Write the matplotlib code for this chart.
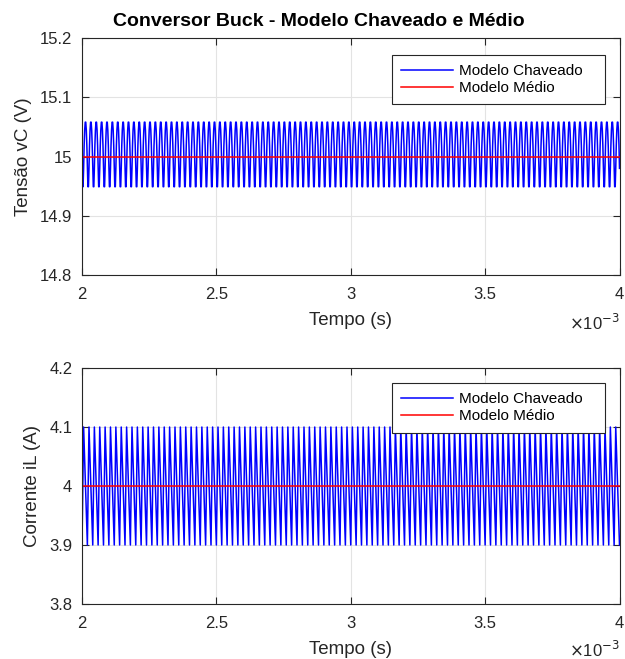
import numpy as np
import matplotlib
matplotlib.use("Agg")
import matplotlib.pyplot as plt
from matplotlib.ticker import FuncFormatter

plt.rcParams['font.family'] = ['Liberation Sans', 'DejaVu Sans']

# switching period 20 us (50 kHz), 10 samples per period, window 2 ms .. 4 ms
t_start = 2e-3
t_stop = 4e-3
n_periods = 100
# one switching period of the switched model
vc_period = [14.980, 14.949, 14.949, 14.980, 15.019, 15.045, 15.058, 15.058, 15.045, 15.019]
il_period = [3.900, 3.967, 4.033, 4.100, 4.071, 4.043, 4.014, 3.986, 3.957, 3.929]
# average model
vc_avg = 15.0
il_avg = 4.0

vc_sw = np.append(np.tile(vc_period, n_periods), vc_period[0])
il_sw = np.append(np.tile(il_period, n_periods), il_period[0])
t = np.linspace(t_start, t_stop, len(vc_sw))

x_ticks = [2e-3, 2.5e-3, 3e-3, 3.5e-3, 4e-3]
vc_ticks = [14.8, 14.9, 15.0, 15.1, 15.2]
il_ticks = [3.8, 3.9, 4.0, 4.1, 4.2]

fig = plt.figure(figsize=(6.25, 6.59), dpi=100)
ax1 = fig.add_axes([0.1312, 0.5827, 0.86, 0.3596])
ax2 = fig.add_axes([0.1312, 0.0835, 0.86, 0.358])

edge = '#262626'
panels = [
    (ax1, vc_sw, vc_avg, vc_ticks, 'Tensão vC (V)', (0.577, 0.928)),
    (ax2, il_sw, il_avg, il_ticks, 'Corrente iL (A)', (0.577, 0.936)),
]
for ax, sw, avg, yt, ylab, anchor in panels:
    ax.plot(t, sw, color='#0000ff', lw=1.1, label='Modelo Chaveado   ')
    ax.plot([t_start, t_stop], [avg, avg], color='#ff0000', lw=1.1, label='Modelo Médio')
    ax.set_xlim(t_start, t_stop)
    ax.set_ylim(yt[0], yt[-1])
    ax.set_xticks(x_ticks)
    ax.set_yticks(yt)
    ax.xaxis.set_major_formatter(FuncFormatter(lambda v, p: '%g' % round(v * 1e3, 3)))
    ax.yaxis.set_major_formatter(FuncFormatter(lambda v, p: '%g' % round(v, 3)))
    ax.grid(True, color='#e3e3e3', lw=0.8)
    ax.set_axisbelow(True)
    ax.tick_params(direction='in', length=5, width=0.8, top=True, right=True,
                   labelsize=12, colors=edge, pad=7)
    ax.tick_params(axis='x', pad=8.5)
    for s in ax.spines.values():
        s.set_color(edge)
        s.set_linewidth(0.8)
    ax.set_xlabel('Tempo (s)', fontsize=13.5, color=edge, labelpad=7)
    ax.set_ylabel(ylab, fontsize=13.5, color=edge, labelpad=6)
    leg = ax.legend(loc='upper left', bbox_to_anchor=anchor, fontsize=11,
                    fancybox=False, framealpha=1, edgecolor=edge,
                    handlelength=3.4, handletextpad=0.4, borderpad=0.6,
                    labelspacing=0.2, borderaxespad=0)
    leg.get_frame().set_linewidth(0.8)

fig.text(0.91, 0.5, r'$\times$10$^{-3}$', fontsize=12, color=edge, ha='left')
fig.text(0.91, 0.003, r'$\times$10$^{-3}$', fontsize=12, color=edge, ha='left')

fig.text(0.51, 0.968, 'Conversor Buck - Modelo Chaveado e Médio',
         fontsize=14, fontweight='bold', ha='center', va='center')

fig.savefig('out.png', dpi=100)
